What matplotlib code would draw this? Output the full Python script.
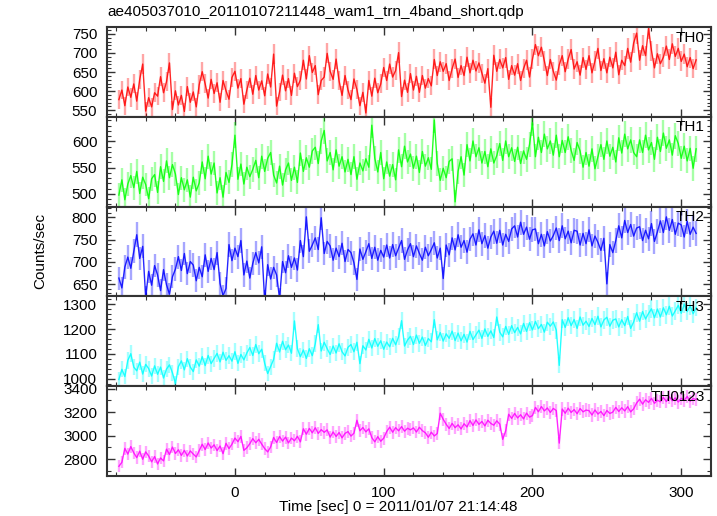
import numpy as np
import matplotlib
matplotlib.use('Agg')
import matplotlib.pyplot as plt
from matplotlib.ticker import MultipleLocator

plt.rcParams['font.family'] = ['Liberation Sans', 'DejaVu Sans']
plt.rcParams['font.size'] = 11

title = 'ae405037010_20110107211448_wam1_trn_4band_short.qdp'
xlabel = 'Time [sec] 0 = 2011/01/07 21:14:48'
ylabel = 'Counts/sec'

# bins of 2 s, centres in sec after 21:14:48
t_start = -78
t_step = 2
exposure = 1.0  # error bars drawn with 1 s statistics like the original

bands = ['TH0', 'TH1', 'TH2', 'TH3', 'TH0123']
colors = ['#ff0000', '#00ff00', '#0000ff', '#00ffff', '#ff00ff']
ylims = [(533, 768), (476, 647), (623, 824), (970, 1332), (2655, 3422)]
ymajor = [50, 50, 50, 100, 200]
yminor = [10, 10, 10, 20, 100]

th0 = [578, 603, 562, 611, 584, 619, 574, 631, 671, 548, 583, 559, 596,
       587, 638, 596, 625, 674, 552, 601, 564, 589, 547, 612, 571, 598, 559, 617,
       651, 619, 582, 631, 594, 622, 571, 628, 601, 579, 636, 652, 608, 633,
       566, 603, 634, 592, 641, 603, 627, 588, 645, 611, 697, 561, 598,
       642, 601, 633, 589, 647, 612, 629, 681, 632, 693, 649, 667, 591, 628,
       637, 699, 652, 631, 684, 627, 589, 641, 603, 578, 632, 604, 562, 597, 543,
       628, 587, 634, 596, 619, 662, 628, 671, 637, 654, 701, 586, 629, 597,
       646, 603, 639, 597, 641, 608, 633, 614, 683, 641, 677, 652,
       672, 628, 659, 684, 636, 667, 641, 689, 648, 681, 653, 674,
       647, 621, 659, 558, 694, 652, 683, 661, 688,
       631, 667, 642, 672, 628, 659, 681, 637, 684, 722, 693, 715, 679,
       641, 683, 652, 629, 669, 693, 651, 684, 709, 658, 677, 642, 688,
       657, 693, 648, 679, 712, 654, 685, 648, 689, 661, 702, 643, 681, 667,
       712, 676, 726, 752, 681, 719, 693, 764, 706, 661, 698, 672, 689,
       718, 683, 724, 691, 712, 678, 697, 664, 688, 659, 682]

th1 = [498, 527, 489, 519, 535, 512, 543, 501, 532, 518, 491, 529, 537, 503,
       552, 524, 563, 531, 556, 538, 499, 531, 508, 527, 494, 532, 506, 521,
       561, 529, 572, 538, 559, 502, 531, 494, 541, 522, 556, 612,
       528, 557, 519, 551, 533, 547, 564, 531, 572, 543, 568, 579, 536,
       521, 553, 517, 546, 559, 526, 551, 522, 578, 543, 569, 551, 582,
       589, 558, 601, 621, 563, 579, 546, 584, 553, 571, 542,
       566, 537, 571, 528, 559, 544, 567, 551, 631, 568, 542, 579,
       529, 561, 534, 556, 527, 584, 552, 591, 561, 576, 549,
       572, 541, 581, 553, 569, 547, 641, 558, 526, 549, 531, 562,
       567, 485, 543, 571, 536, 594, 563, 601, 571, 588, 559,
       581, 552, 586, 559, 573, 596, 564, 601, 571, 588, 562,
       589, 558, 582, 566, 594, 636, 571, 608, 579, 614, 586, 601, 574, 612,
       571, 602, 579, 609, 583, 564, 598, 582, 551, 579, 553, 586, 548, 571,
       594, 566, 601, 572, 589, 561, 607, 578, 614, 586, 603, 579,
       571, 603, 579, 612, 584, 598, 566, 608, 581, 616, 587, 603, 574, 611,
       596, 568, 591, 563, 587, 549, 586]

th2 = [664, 642, 689, 711, 686, 724, 761, 708, 735, 621, 679, 648, 692,
       671, 636, 683, 649, 628, 667, 684, 712, 681, 719, 674, 701,
       693, 658, 688, 667, 716, 679, 708, 683, 721, 652, 624, 641,
       739, 703, 731, 712, 748, 671, 702, 664, 697, 721, 698, 734, 612,
       694, 662, 688, 671, 618, 701, 676, 714, 688, 709, 682,
       748, 712, 801, 724, 738, 754, 728, 799, 719, 746,
       736, 704, 731, 712, 742, 701, 728, 721, 698, 661, 729, 706, 723,
       741, 708, 733, 704, 726, 711, 738, 709, 739, 714, 731, 748, 706, 727,
       741, 712, 736, 719, 704, 733, 714, 728, 743, 709, 731, 663, 738, 716,
       754, 727, 761, 733, 748, 722, 751, 763, 738, 772, 741, 759, 731, 756,
       769, 742, 771, 738, 762, 746, 774, 781, 756, 789, 762, 778, 751, 772,
       774, 741, 762, 736, 768, 747, 759, 776, 748, 781, 752, 769, 743, 771,
       769, 738, 764, 741, 772, 736, 758, 744, 726, 753, 651, 739, 721, 748,
       781, 754, 793, 766, 784, 758, 776, 779, 748, 771, 752, 786, 746, 768,
       792, 766, 801, 771, 795, 762, 787, 783, 756, 791, 762, 778, 764]

th3 = [997, 1038, 1009, 1074, 1101, 1047, 1032, 1067, 1019, 1058, 1041,
       1011, 1052, 1018, 1047, 1003, 1039, 1056, 1024, 981, 1049,
       1072, 1036, 1081, 1047, 1029, 1076, 1051, 1089, 1053, 1094, 1061, 1082,
       1102, 1068, 1107, 1074, 1093, 1071, 1109, 1062, 1098, 1076, 1104,
       1126, 1094, 1138, 1101, 1119, 1062, 1021, 1049, 1078,
       1143, 1108, 1151, 1117, 1136, 1103, 1233, 1121, 1089,
       1116, 1082, 1121, 1093, 1141, 1218, 1112, 1147, 1121,
       1098, 1132, 1104, 1141, 1109, 1092, 1127, 1138, 1109, 1147, 1061, 1133, 1116,
       1159, 1124, 1162, 1131, 1153, 1119, 1148, 1129, 1163, 1137, 1169, 1234, 1132, 1156,
       1171, 1138, 1176, 1143, 1168, 1134, 1162,
       1149, 1238, 1157, 1186, 1152, 1181, 1163, 1192, 1154,
       1184, 1153, 1179, 1148, 1191, 1158, 1177,
       1196, 1163, 1201, 1171, 1193, 1166, 1249, 1188, 1169,
       1211, 1179, 1214, 1186, 1207, 1181,
       1223, 1191, 1226, 1197, 1231, 1202, 1219, 1188, 1228, 1212, 1229, 1196, 1054,
       1238, 1207, 1246, 1214, 1239, 1203, 1249, 1216, 1232,
       1211, 1243, 1218, 1252, 1209, 1237, 1248, 1212, 1236,
       1241, 1209, 1238, 1214, 1251, 1203, 1229,
       1266, 1232, 1271, 1241, 1263, 1282, 1246,
       1281, 1249, 1286, 1258, 1292, 1253, 1274,
       1296, 1264, 1301, 1271, 1294, 1262, 1287]

th0123 = [2738, 2772, 2891, 2842, 2906, 2853, 2812, 2867, 2798, 2861, 2826,
          2776, 2821, 2758, 2809, 2784, 2884, 2839, 2902, 2847, 2879,
          2831, 2874, 2826, 2869, 2842, 2818, 2871,
          2926, 2881, 2937, 2894, 2921, 2872, 2911, 2846, 2934, 2889, 2927,
          2979, 2948, 2993, 2874, 2896, 2931, 2974, 2939, 2968, 2927,
          2889, 2861, 2903,
          2984, 2941, 2992, 2953, 2987, 2938, 2979, 2956, 2994, 2947,
          3058, 3012, 3061, 3024, 3067, 3019, 3051, 3028, 3049,
          2987, 3031, 2993, 3026, 2981, 3019, 3034, 2996, 3021,
          3131, 3041, 3069, 3032, 3058, 2983, 2947, 2991, 2952, 2978,
          3034, 3072, 3029, 3068, 3041, 3077, 3038, 3063, 3049,
          3066, 3031, 3071, 3042, 3024, 2986, 3029, 2997, 3018, 3191, 3139,
          3097, 3061, 3104, 3068, 3092, 3057, 3101, 3074,
          3128, 3087, 3134, 3096, 3121, 3083, 3131, 3104, 3089, 3126, 3098,
          2968, 3041,
          3182, 3147, 3189, 3151, 3178, 3143, 3192, 3158, 3171,
          3241, 3204, 3248, 3211, 3236, 3198, 3232, 3214, 2936,
          3227, 3191, 3234, 3198, 3222, 3187, 3231, 3203, 3218,
          3213, 3176, 3219, 3184, 3206, 3171, 3214, 3189, 3201,
          3241, 3206, 3238, 3211, 3247, 3203, 3229,
          3278, 3311, 3269, 3306, 3284, 3318, 3276, 3302, 3289,
          3326, 3291, 3331, 3298, 3322, 3287, 3319, 3301, 3334, 3293, 3316, 3308]

rates = [th0, th1, th2, th3, th0123]

fig = plt.figure(figsize=(7.17, 5.16), dpi=100)

# panel layout in pixels of the 717x516 picture
left, right = 107, 711
top, panel_h = 27, 89.8
W, H = 717.0, 516.0

for i, (band, color, rate) in enumerate(zip(bands, colors, rates)):
    rate = np.array(rate, dtype=float)
    t = t_start + t_step * np.arange(len(rate))
    err = np.sqrt(rate * exposure) / exposure
    y0 = top + (i + 1) * panel_h
    ax = fig.add_axes([left / W, 1 - y0 / H, (right - left) / W, panel_h / H])
    # light error bars, wide enough to merge into a band like the 1 s original
    ax.errorbar(t, rate, yerr=err, fmt='none', ecolor=color, elinewidth=1.7, alpha=0.35)
    ax.plot(t, rate, color=color, lw=1, alpha=0.85)
    ax.set_xlim(-86, 320)
    ax.set_ylim(*ylims[i])
    ax.xaxis.set_major_locator(MultipleLocator(100))
    ax.xaxis.set_minor_locator(MultipleLocator(20))
    ax.yaxis.set_major_locator(MultipleLocator(ymajor[i]))
    ax.yaxis.set_minor_locator(MultipleLocator(yminor[i]))
    ax.tick_params(which='both', direction='in', top=True, right=True,
                   labelbottom=(i == len(bands) - 1), color='#333333')
    ax.tick_params(which='major', length=6, width=1, pad=7)
    ax.tick_params(which='minor', length=3, width=0.8)
    for s in ax.spines.values():
        s.set_linewidth(1.5)
        s.set_color('#333333')
    ax.text(0.99, 0.96, band, transform=ax.transAxes, ha='right', va='top')

fig.text(left / W, 1 - 12 / H, title, ha='left', va='center')
fig.text(40 / W, 1 - 251 / H, ylabel, rotation=90, ha='center', va='center')
fig.text(398 / W, 1 - 507 / H, xlabel, ha='center', va='center')

fig.savefig('out.png', dpi=100)
